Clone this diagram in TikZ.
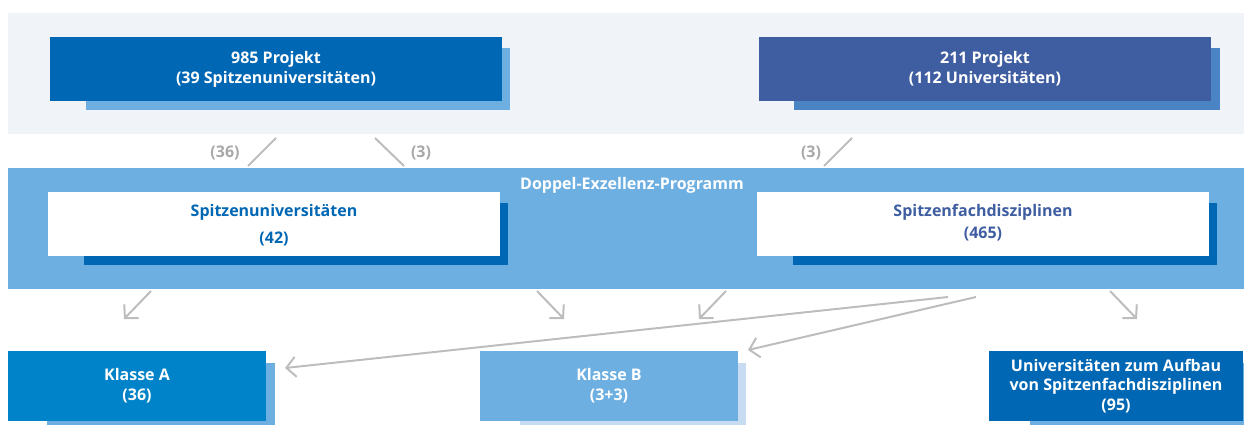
\documentclass[tikz,border=0pt]{standalone}
\usepackage{fontspec}
\setmainfont{Open Sans}
\usetikzlibrary{arrows.meta}
\definecolor{panelbg}{HTML}{F0F4F8}
\definecolor{dkblue}{HTML}{0067B4}
\definecolor{ltblue}{HTML}{6EAFE1}
\definecolor{navy}{HTML}{3F5EA1}
\definecolor{navysh}{HTML}{4A84C5}
\definecolor{klA}{HTML}{0083C9}
\definecolor{klBsh}{HTML}{C8DCF1}
\definecolor{conn}{HTML}{BDBDBD}
\definecolor{lblgray}{HTML}{A8A8A8}
\tikzset{
  plain/.style={inner sep=0pt,outer sep=0pt,draw=none},
  txt/.style={font=\bfseries\fontsize{12}{14.8}\selectfont,align=center,text=white},
  line/.style={draw=conn,line width=1.5pt},
  arr/.style={line,-{Straight Barb[length=7pt,width=15pt,line width=1.5pt]}},
  lbl/.style={font=\bfseries\fontsize{12}{14.8}\selectfont,text=lblgray,inner sep=0pt}
}
\begin{document}
\begin{tikzpicture}[x=0.75pt,y=-0.75pt]
\useasboundingbox (0,0) rectangle (1244,425);
% top panel
\node[plain,fill=panelbg,minimum width=927pt,minimum height=90.75pt] (panel) at (626,73.5) {};
% 985
\node[plain,fill=ltblue,minimum width=318pt,minimum height=46.5pt] (p985s) at (298,79) {};
\node[plain,fill=dkblue,minimum width=339pt,minimum height=48pt,txt] (p985) at (276,69) {985 Projekt\\(39 Spitzenuniversitäten)};
% 211
\node[plain,fill=navysh,minimum width=319.5pt,minimum height=46.5pt] (p211s) at (1006.5,79) {};
\node[plain,fill=navy,minimum width=339pt,minimum height=48pt,txt] (p211) at (985,69) {211 Projekt\\(112 Universitäten)};
% band
\node[plain,fill=ltblue,minimum width=927pt,minimum height=90.75pt] (band) at (626,228.5) {};
\node[txt,inner sep=0pt] (dep) at (632,185) {Doppel-Exzellenz-Programm};
% Spitzenuniversitaeten
\node[plain,fill=dkblue,minimum width=318pt,minimum height=46.5pt] (sus) at (296,233.5) {};
\node[plain,fill=white,minimum width=339pt,minimum height=48pt] (su) at (274,224) {};
\node[txt,text=dkblue,font=\bfseries\fontsize{12}{20}\selectfont] (sut) at (274,225.5) {Spitzenuniversitäten\\(42)};
% Spitzenfachdisziplinen
\node[plain,fill=dkblue,minimum width=318pt,minimum height=46.5pt] (sfs) at (1005,233.5) {};
\node[plain,fill=white,minimum width=339pt,minimum height=48pt] (sf) at (983,224) {};
\node[txt,text=navy,font=\bfseries\fontsize{12}{16.5}\selectfont] (sft) at (983,222.5) {Spitzenfachdisziplinen\\(465)};
% Klasse A
\node[plain,fill=ltblue,minimum width=171pt,minimum height=46.5pt] (kas) at (161,394) {};
\node[plain,fill=klA,minimum width=193.5pt,minimum height=52.5pt,txt] (ka) at (137,386) {Klasse A\\(36)};
% Klasse B
\node[plain,fill=klBsh,minimum width=169.5pt,minimum height=46.5pt] (kbs) at (633,394) {};
\node[plain,fill=ltblue,minimum width=193.5pt,minimum height=52.5pt,txt] (kb) at (609,386) {Klasse B\\(3+3)};
% Universitaeten
\node[plain,fill=ltblue,minimum width=160.5pt,minimum height=46.5pt] (uns) at (1137,394) {};
\node[plain,fill=dkblue,minimum width=190.5pt,minimum height=52.5pt,txt] (un) at (1116,386) {Universitäten zum Aufbau\\von Spitzenfachdisziplinen\\(95)};
% top connectors
\coordinate (a1) at (276,138); \coordinate (b1) at (248,166);
\coordinate (a2) at (375,138); \coordinate (b2) at (404,166);
\coordinate (a3) at (852,138); \coordinate (b3) at (824,166);
\draw[line] (a1) -- (b1);
\draw[line] (a2) -- (b2);
\draw[line] (a3) -- (b3);
\node[lbl] (l1) at (225,153) {(36)};
\node[lbl] (l2) at (421,153) {(3)};
\node[lbl] (l3) at (811,153) {(3)};
% bottom connectors
\coordinate (c1) at (151,291); \coordinate (d1) at (124,319);
\coordinate (c2) at (537,291); \coordinate (d2) at (564,319);
\coordinate (c3) at (726,291); \coordinate (d3) at (699,319);
\coordinate (c4) at (1110,291); \coordinate (d4) at (1137,319);
\coordinate (c5) at (948,297); \coordinate (d5) at (285,368);
\coordinate (c6) at (976,297); \coordinate (d6) at (748,350);
\draw[arr] (c1) -- (d1);
\draw[arr] (c2) -- (d2);
\draw[arr] (c3) -- (d3);
\draw[arr] (c4) -- (d4);
\draw[arr] (c5) -- (d5);
\draw[arr] (c6) -- (d6);
\end{tikzpicture}
\end{document}
